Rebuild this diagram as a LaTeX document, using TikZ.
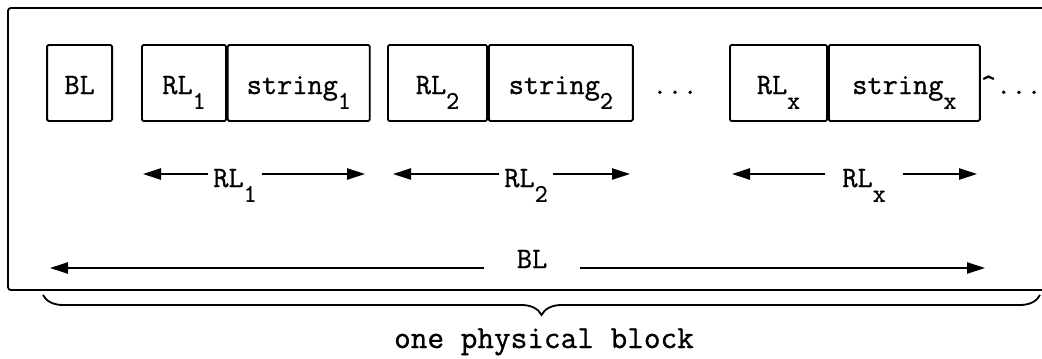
\documentclass[tikz,border=0pt]{standalone}
\usepackage{fontspec}
\setmonofont{Latin Modern Mono}[RawFeature={embolden=0.9}]
\usetikzlibrary{arrows.meta,decorations.pathreplacing}
\newcommand{\lowsub}[1]{\raisebox{-0.5em}{\fontsize{18}{18}\selectfont #1}}

\begin{document}
\begin{tikzpicture}[
    line width=1.3pt,
    every node/.style={font=\ttfamily\fontsize{21}{23}\selectfont, inner sep=0.1cm},
    field/.style={draw, rounded corners=1pt, minimum height=1.9cm, text height=0.9cm, text depth=0.35cm, inner sep=0pt},
    dimline/.style={-{Triangle[length=0.45cm,width=0.28cm]}}
  ]
  \useasboundingbox (0,0) rectangle (26.05,-8.95);
  \draw[rounded corners=2pt] (26.05,-0.2) -- (0.2,-0.2) -- (0.2,-7.25) -- (26.05,-7.25);

  % block length and the records
  \node[field, minimum width=1.625cm] (bl) at (1.99,-2.075) {BL};
  \node[field, minimum width=2.1cm] (rl1) at (4.6,-2.075) {RL\lowsub{1}\hspace{0.3cm}};
  \node[field, minimum width=3.55cm, anchor=west] (str1) at (rl1.east) {string\lowsub{1}};
  \node[field, minimum width=2.475cm] (rl2) at (10.9375,-2.075) {RL\lowsub{2}};
  \node[field, minimum width=3.6cm, anchor=west] (str2) at (rl2.east) {string\lowsub{2}};
  \node[anchor=base] (gapdots) at (16.875,-2.35) {...};
  \node[field, minimum width=2.425cm] (rlx) at (19.4625,-2.075) {RL\lowsub{x}};
  \node[field, minimum width=3.775cm, anchor=west] (strx) at (rlx.east) {string\lowsub{x}};
  \node[anchor=base west, inner sep=0pt] (more) at (24.5,-2.35) {\textasciicircum...};

  % record lengths
  \coordinate (r1l) at (3.575,-4.35);
  \coordinate (r1r) at (9.125,-4.35);
  \node[anchor=base] (len1) at (5.875,-4.675) {RL\lowsub{1}};
  \draw[dimline] (r1l -| len1.west) -- (r1l);
  \draw[dimline] (r1r -| len1.east) -- (r1r);

  \coordinate (r2l) at (9.825,-4.35);
  \coordinate (r2r) at (15.75,-4.35);
  \node[anchor=base] (len2) at (13.15,-4.675) {RL\lowsub{2}};
  \draw[dimline] (r2l -| len2.west) -- (r2l);
  \draw[dimline] (r2r -| len2.east) -- (r2r);

  \coordinate (rxl) at (18.3,-4.35);
  \coordinate (rxr) at (24.425,-4.35);
  \node[anchor=base, inner xsep=0.4cm] (lenx) at (21.6,-4.675) {RL\lowsub{x}};
  \draw[dimline] (rxl -| lenx.west) -- (rxl);
  \draw[dimline] (rxr -| lenx.east) -- (rxr);

  % block length
  \coordinate (bll) at (1.25,-6.7);
  \coordinate (blr) at (24.625,-6.7);
  \node[anchor=base, minimum width=2.375cm, inner sep=0pt] (lenbl) at (13.3,-6.7) {BL};
  \draw[dimline] (bll -| lenbl.west) -- (bll);
  \draw[dimline] (blr -| lenbl.east) -- (blr);

  % physical block
  \coordinate (brl) at (1.075,-7.375);
  \coordinate (brr) at (26.0,-7.375);
  \draw[decorate, decoration={brace, mirror, amplitude=0.5cm}] (brl) -- (brr);
  \node[anchor=base, font=\ttfamily\fontsize{23}{25}\selectfont] (blocklbl) at (13.6,-8.7) {one physical block};
\end{tikzpicture}
\end{document}
